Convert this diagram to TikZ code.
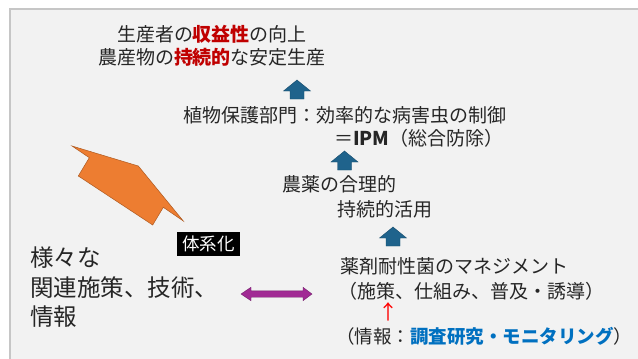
\documentclass[tikz,border=0pt]{standalone}
\usepackage{fontspec}
\setmainfont{Noto Sans CJK JP}
\definecolor{bg}{HTML}{F2F2F2}
\definecolor{bordergray}{HTML}{C6C6C6}
\definecolor{txt}{HTML}{262626}
\definecolor{hred}{HTML}{C00000}
\definecolor{pred}{HTML}{FF0000}
\definecolor{hblue}{HTML}{0070C0}
\definecolor{arrowblue}{HTML}{1F638C}
\definecolor{arrowblueline}{HTML}{174C6C}
\definecolor{purplefill}{HTML}{A12A94}
\definecolor{purpleline}{HTML}{74206B}
\definecolor{orangefill}{HTML}{ED7D31}
\definecolor{orangeline}{HTML}{AE5A21}
\tikzset{
  lbl/.style={inner sep=0pt, text=txt, font=\fontsize{19}{22}\selectfont},
  biglbl/.style={inner sep=0pt, text=txt, font=\fontsize{23.5}{27}\selectfont},
  uparrow/.pic={\filldraw[fill=arrowblue, draw=arrowblueline, line width=0.4pt]
     (0,0) -- (13.5,11) -- (7,11) -- (7,19) -- (-7,19) -- (-7,11) -- (-13.5,11) -- cycle;}
}
\begin{document}
\begin{tikzpicture}[x=1pt,y=-1pt]
\useasboundingbox (0,0) rectangle (638,359);
\clip (0,0) rectangle (638,359);
\fill[white] (0,0) rectangle (638,359);
\filldraw[fill=bg, draw=bordergray, line width=1.6pt] (10,9) rectangle (660,380);

% top goal
\node[lbl] (t1) at (212,34) {生産者の{\bfseries\color{hred}収益性}の向上};
\node[lbl] (t2) at (212,57.5) {農産物の{\bfseries\color{hred}持続的}な安定生産};
\pic at (297,80) {uparrow};

\node[lbl, anchor=west] (t3) at (183,115) {植物保護部門：効率的な病害虫の制御};
\node[lbl, anchor=west] (t4) at (334,138) {＝{\bfseries IPM}（総合防除）};
\pic at (344.5,151) {uparrow};

\node[lbl, anchor=west] (t5) at (282,184) {農薬の合理的};
\node[lbl, anchor=west] (t6) at (337,209) {持続的活用};
\pic at (393,227) {uparrow};

\node[lbl, anchor=west] (t7) at (340,266.5) {薬剤耐性菌のマネジメント};
\node[lbl, anchor=west] (t8) at (338,291) {（施策、仕組み、普及・誘導）};
\node[lbl, text=pred, font=\fontsize{20}{22}\selectfont] (ra) at (388,312) {↑};
\node[lbl, anchor=west, font=\fontsize{18.5}{22}\selectfont] (t9) at (336,336.5) {（情報：{\bfseries\color{hblue}調査研究・モニタリング}）};

% left side
\node[biglbl, anchor=west] (l1) at (30,258) {様々な};
\node[biglbl, anchor=west] (l2) at (30,287.5) {関連施策、技術、};
\node[biglbl, anchor=west] (l3) at (30,317) {情報};

\node[fill=black, text=white, inner sep=0pt, minimum width=63pt, minimum height=24pt,
      font=\fontsize{17.5}{20}\selectfont] (sys) at (208.5,244) {体系化};

% purple double arrow
\filldraw[fill=purplefill, draw=purpleline, line width=0.4pt]
  (241,294) -- (251,287.3) -- (251,290.8) -- (303,290.8) -- (303,287.3) -- (312,294)
  -- (303,300.7) -- (303,297.2) -- (251,297.2) -- (251,300.7) -- cycle;

% orange shape
\filldraw[fill=orangefill, draw=orangeline, line width=0.5pt]
  (72,146) -- (138.3,166) -- (183.3,221) -- (163.3,207.3) -- (152.7,225)
  -- (78.3,176) -- (89.3,157.7) -- cycle;
\end{tikzpicture}
\end{document}
